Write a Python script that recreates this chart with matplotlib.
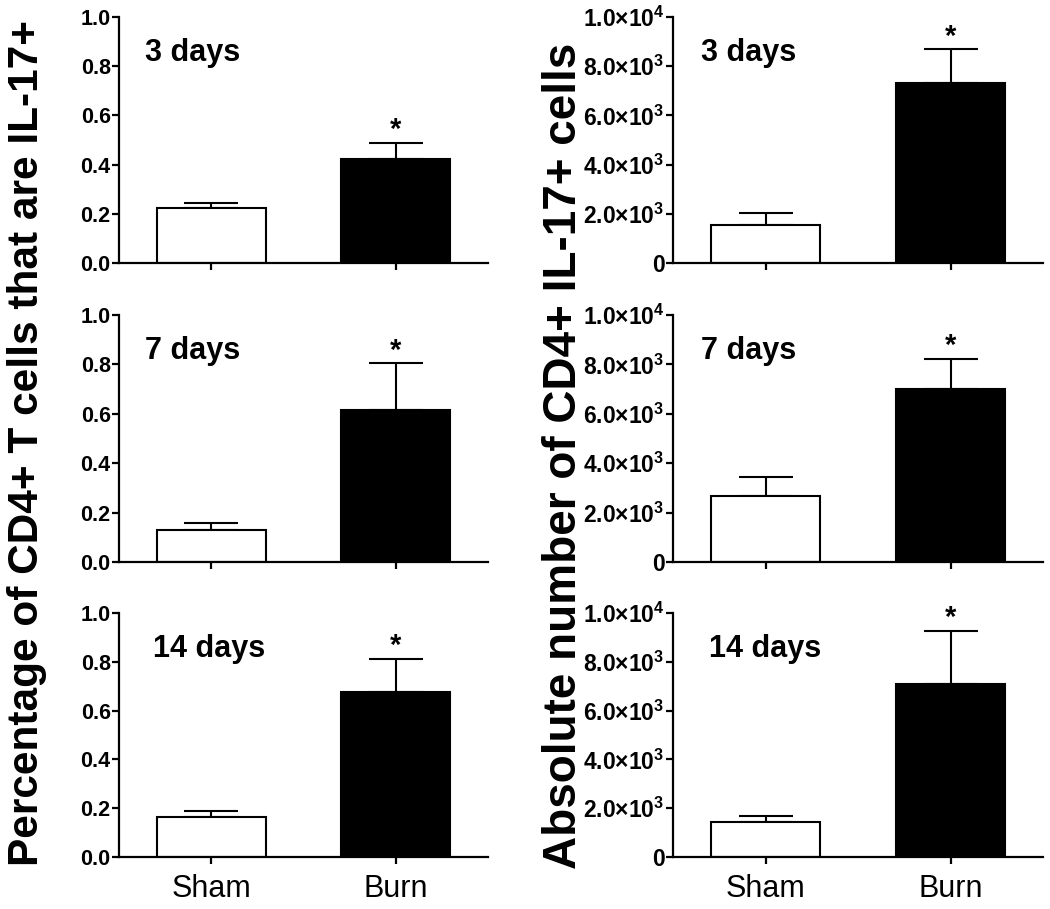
import matplotlib
matplotlib.use("Agg")
import matplotlib.pyplot as plt
from matplotlib.ticker import FixedLocator, FuncFormatter

plt.rcParams["font.family"] = ["Liberation Sans", "DejaVu Sans"]
plt.rcParams["mathtext.fontset"] = "custom"
plt.rcParams["mathtext.rm"] = "Liberation Sans:bold"
plt.rcParams["mathtext.bf"] = "Liberation Sans:bold"

# data
groups = ["Sham", "Burn"]
days = ["3 days", "7 days", "14 days"]
pct_sham = [0.225, 0.13, 0.165]
pct_sham_err = [0.02, 0.028, 0.024]
pct_burn = [0.422, 0.617, 0.676]
pct_burn_err = [0.066, 0.188, 0.136]
abs_sham = [1560, 2670, 1430]
abs_sham_err = [490, 760, 270]
abs_burn = [7330, 7020, 7100]
abs_burn_err = [1360, 1210, 2170]

pct_ticks = [0.0, 0.2, 0.4, 0.6, 0.8, 1.0]
abs_ticks = [0, 2000, 4000, 6000, 8000, 10000]


def abs_fmt(v, pos):
    if v == 0:
        return "0"
    exp = 4 if v >= 10000 else 3
    return r"$%.1f{\times}10^{%d}$" % (v / 10 ** exp, exp)


fig = plt.figure(figsize=(10.5, 9.09), dpi=100)

rows = [(0.7107, 0.2706), (0.3817, 0.2717), (0.0572, 0.2684)]
cols = [0.1133, 0.641]
day_x = [0.07, 0.07, 0.092]


def draw_panel(ax, sham, sham_err, burn, burn_err, ymax, ticks, fmt, label, lx,
               show_x, tick_size):
    x = [0, 1]
    vals = [sham, burn]
    errs = [sham_err, burn_err]
    ax.bar(x, vals, width=0.59, color=["white", "black"], edgecolor="black",
           linewidth=1.5, zorder=2)
    ax.errorbar(x, vals, yerr=[[0, 0], errs], fmt="none", ecolor="black",
                elinewidth=1.5, capsize=19.5, capthick=1.5, zorder=1)
    # significance star on burn
    ax.annotate("*", xy=(1, burn + burn_err), xytext=(0, -1),
                textcoords="offset points", ha="center", va="bottom",
                fontsize=21, fontweight="bold")
    ax.set_xlim(-0.5, 1.5)
    ax.set_ylim(0, ymax)
    ax.yaxis.set_major_locator(FixedLocator(ticks))
    ax.yaxis.set_major_formatter(fmt)
    ax.set_xticks(x)
    if show_x:
        ax.set_xticklabels(groups, fontsize=22)
    else:
        ax.set_xticklabels([])
    for s in ["top", "right"]:
        ax.spines[s].set_visible(False)
    for s in ["left", "bottom"]:
        ax.spines[s].set_linewidth(1.6)
    ax.tick_params(axis="y", direction="out", length=5, width=1.6, pad=1,
                   labelsize=tick_size)
    ax.tick_params(axis="x", direction="out", length=5, width=1.6, pad=7)
    for t in ax.get_yticklabels():
        t.set_fontweight("bold")
    ax.text(lx, 0.853, label, transform=ax.transAxes, ha="left", va="center",
            fontsize=22, fontweight="bold")


pct_fmt = FuncFormatter(lambda v, p: "%.1f" % v)
abs_formatter = FuncFormatter(abs_fmt)

for i in range(3):
    b, h = rows[i]
    axl = fig.add_axes([cols[0], b, 0.3514, h])
    draw_panel(axl, pct_sham[i], pct_sham_err[i], pct_burn[i], pct_burn_err[i],
               1.0, pct_ticks, pct_fmt, days[i], day_x[i], i == 2, 15.5)
    axr = fig.add_axes([cols[1], b, 0.3524, h])
    draw_panel(axr, abs_sham[i], abs_sham_err[i], abs_burn[i], abs_burn_err[i],
               10000, abs_ticks, abs_formatter, days[i], day_x[i] + 0.005,
               i == 2, 16.5)

fig.text(0.026, 0.513, "Percentage of CD4+ T cells that are IL-17+", rotation=90,
         ha="center", va="center", fontsize=30.5, fontweight="bold")
fig.text(0.537, 0.498, "Absolute number of CD4+ IL-17+ cells", rotation=90,
         ha="center", va="center", fontsize=33, fontweight="bold")

fig.savefig("out.png", dpi=100)
